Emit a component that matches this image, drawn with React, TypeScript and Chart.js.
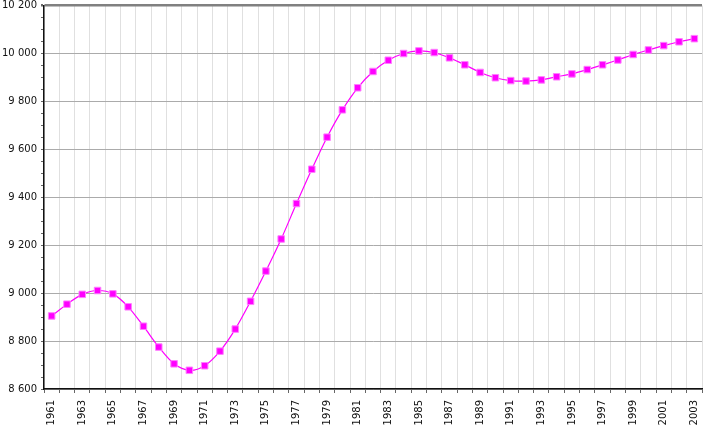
import React, { useEffect, useRef } from 'react';
import { Chart, registerables } from 'chart.js';

Chart.register(...registerables);

// years 1961..2003
const years: string[] = [
  '1961', '1962', '1963', '1964', '1965', '1966', '1967', '1968', '1969', '1970',
  '1971', '1972', '1973', '1974', '1975', '1976', '1977', '1978', '1979', '1980',
  '1981', '1982', '1983', '1984', '1985', '1986', '1987', '1988', '1989', '1990',
  '1991', '1992', '1993', '1994', '1995', '1996', '1997', '1998', '1999', '2000',
  '2001', '2002', '2003',
];

// population, thousands
const population: number[] = [
  8905, 8954, 8995, 9011, 8997, 8943, 8862, 8775, 8705, 8678,
  8697, 8758, 8850, 8966, 9092, 9226, 9374, 9517, 9651, 9765,
  9857, 9925, 9972, 10000, 10011, 10004, 9982, 9953, 9921, 9899,
  9887, 9885, 9890, 9903, 9915, 9933, 9953, 9973, 9996, 10015,
  10033, 10049, 10062,
];

const yMin = 8600;
const yMax = 10200;
const yMajorStep = 200;
const yMinorStep = 50;

const fmt = (v: number) => String(v).replace(/\B(?=(\d{3})+(?!\d))/g, ' ');

const App: React.FC = () => {
  const canvasRef = useRef<HTMLCanvasElement>(null);
  const chartRef = useRef<Chart | null>(null);

  useEffect(() => {
    if (!canvasRef.current) return;
    const font = { family: '"DejaVu Sans", Verdana, sans-serif', size: 10 };

    chartRef.current = new Chart(canvasRef.current, {
      type: 'line',
      data: {
        labels: years,
        datasets: [{
          data: population,
          borderColor: '#ff00ff',
          borderWidth: 1.2,
          backgroundColor: '#ff00ff',
          pointStyle: 'rect',
          pointRadius: 4.6,
          pointBorderColor: '#ff7fff',
          pointBorderWidth: 1,
          pointBackgroundColor: '#ff00ff',
          tension: 0.3,
          fill: false,
        }],
      },
      options: {
        animation: false,
        responsive: true,
        maintainAspectRatio: false,
        layout: { padding: { top: 5, right: 23, left: 0, bottom: 0 } },
        plugins: {
          legend: { display: false },
          tooltip: { enabled: false },
        },
        scales: {
          x: {
            type: 'category',
            offset: true,
            afterFit: (scale: any) => { scale.height = 37; },
            border: { color: '#111', width: 1.5 },
            grid: {
              offset: true,
              color: (ctx: any) => (ctx.index === years.length ? '#222' : '#e0e0e0'),
              lineWidth: 1,
              tickColor: '#666',
              tickLength: 4,
            },
            ticks: {
              autoSkip: false,
              maxRotation: 90,
              minRotation: 90,
              padding: 7,
              color: '#111',
              font,
              callback: (_v: any, i: number) => (i % 2 === 0 ? years[i] : ''),
            },
          },
          y: {
            min: yMin,
            max: yMax,
            afterFit: (scale: any) => {
              scale.width = 44;
              scale.paddingTop = 0;
              scale.paddingBottom = 0;
            },
            border: { color: '#111', width: 1.5 },
            grid: {
              color: (ctx: any) => {
                const v = ctx.tick?.value;
                if (v === yMax) return '#808080';
                return v % yMajorStep === 0 ? '#ababab' : 'rgba(0,0,0,0)';
              },
              lineWidth: (ctx: any) => (ctx.tick?.value === yMax ? 2.5 : 1),
              tickColor: '#666',
              tickLength: 3,
            },
            ticks: {
              stepSize: yMinorStep,
              autoSkip: false,
              padding: 4,
              color: '#111',
              font,
              callback: (v: any) => (Number(v) % yMajorStep === 0 ? fmt(Number(v)) : ''),
            },
          },
        },
      },
    });

    return () => {
      chartRef.current?.destroy();
      chartRef.current = null;
    };
  }, []);

  return (
    <div style={{ position: 'absolute', left: 0, top: 0, width: 725, height: 426, background: '#fff' }}>
      <canvas ref={canvasRef} />
    </div>
  );
};

export default App;
